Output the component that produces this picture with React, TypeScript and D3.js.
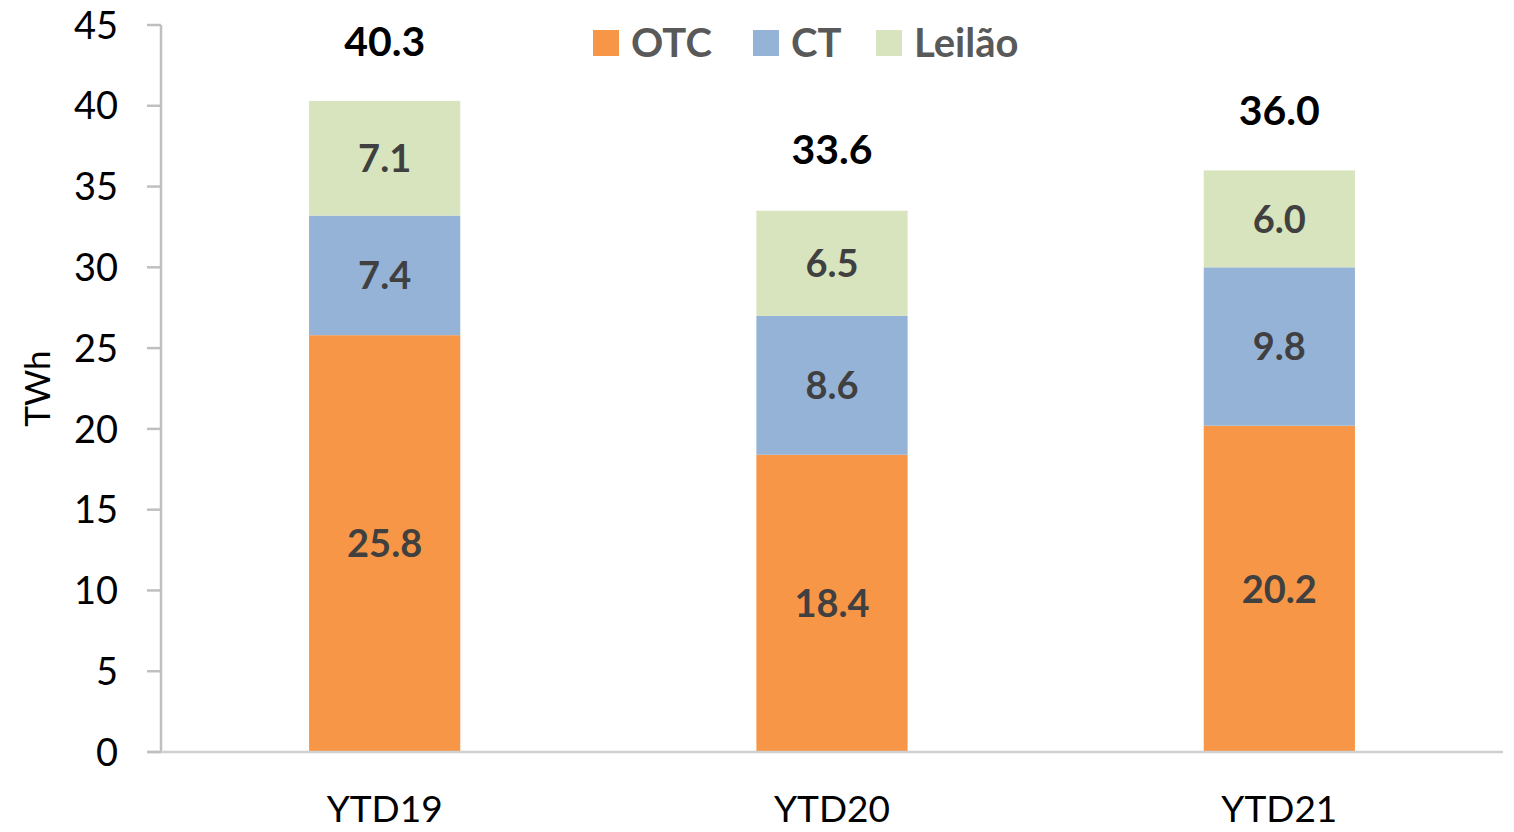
import React from "react";
import * as d3 from "d3";

const W = 1514;
const H = 832;

const categories = ["YTD19", "YTD20", "YTD21"];
const seriesNames = ["OTC", "CT", "Leilão"];
const otc = [25.8, 18.4, 20.2];
const ct = [7.4, 8.6, 9.8];
const leilao = [7.1, 6.5, 6.0];
const totals = [40.3, 33.6, 36.0];
const yTicks = [0, 5, 10, 15, 20, 25, 30, 35, 40, 45];

const COLORS = ["#F79646", "#95B3D7", "#D7E4BD"];
const FONT = "Lato, 'Open Sans', sans-serif";

const margin = { top: 25, right: 11, bottom: 80, left: 161 };

export default function App() {
  const x = d3
    .scaleBand()
    .domain(categories)
    .range([margin.left, W - margin.right])
    .paddingInner(0.662)
    .paddingOuter(0.331);

  const y = d3
    .scaleLinear()
    .domain([0, 45])
    .range([H - margin.bottom, margin.top]);

  const rows = categories.map((c, i) => ({ cat: c, OTC: otc[i], CT: ct[i], "Leilão": leilao[i] }));
  const stacked = d3.stack<any>().keys(seriesNames)(rows);

  const legendItems = [
    { name: "OTC", sx: 593, tx: 631 },
    { name: "CT", sx: 753, tx: 791 },
    { name: "Leilão", sx: 876, tx: 914 },
  ];

  return (
    <svg
      width={W}
      height={H}
      style={{ position: "absolute", left: 0, top: 0, background: "#fff" }}
      fontFamily={FONT}
    >
      {stacked.map((layer, li) => (
        <g key={layer.key}>
          {layer.map((d, i) => {
            const x0 = x(categories[i])!;
            const top = y(d[1]);
            const bot = y(d[0]);
            const v = d[1] - d[0];
            return (
              <g key={i}>
                <rect x={x0} y={top} width={x.bandwidth()} height={bot - top} fill={COLORS[li]} />
                <text
                  x={x0 + x.bandwidth() / 2}
                  y={(top + bot) / 2}
                  dy="0.36em"
                  textAnchor="middle"
                  fontSize={38}
                  fontWeight="bold"
                  fill="#404040"
                >
                  {v.toFixed(1)}
                </text>
              </g>
            );
          })}
        </g>
      ))}

      {categories.map((c, i) => (
        <text
          key={c}
          x={x(c)! + x.bandwidth() / 2}
          y={y(totals[i]) - 45}
          textAnchor="middle"
          fontSize={41}
          fontWeight="bold"
          fill="#000"
        >
          {totals[i].toFixed(1)}
        </text>
      ))}

      {/* axes */}
      <line x1={margin.left} x2={margin.left} y1={y(45)} y2={y(0)} stroke="#BFBFBF" strokeWidth={2.5} />
      <line x1={147} x2={W - margin.right} y1={y(0)} y2={y(0)} stroke="#D0D0D0" strokeWidth={2.5} />
      {yTicks.map((t) => (
        <g key={t}>
          <line x1={147} x2={margin.left} y1={y(t)} y2={y(t)} stroke="#BFBFBF" strokeWidth={2.5} />
          <text x={118} y={y(t)} dy="0.36em" textAnchor="end" fontSize={38} fill="#000">
            {t}
          </text>
        </g>
      ))}
      {categories.map((c) => (
        <text key={c} x={x(c)! + x.bandwidth() / 2} y={822} textAnchor="middle" fontSize={37} fill="#000">
          {c}
        </text>
      ))}

      <text
        transform={`translate(50,${y(22.5)}) rotate(-90)`}
        textAnchor="middle"
        fontSize={35}
        fill="#000"
      >
        TWh
      </text>

      {/* legend */}
      {legendItems.map((l, i) => (
        <g key={l.name}>
          <rect x={l.sx} y={30} width={26} height={26} fill={COLORS[i]} />
          <text x={l.tx} y={43} dy="0.36em" fontSize={40} fontWeight="bold" fill="#595959">
            {l.name}
          </text>
        </g>
      ))}
    </svg>
  );
}
